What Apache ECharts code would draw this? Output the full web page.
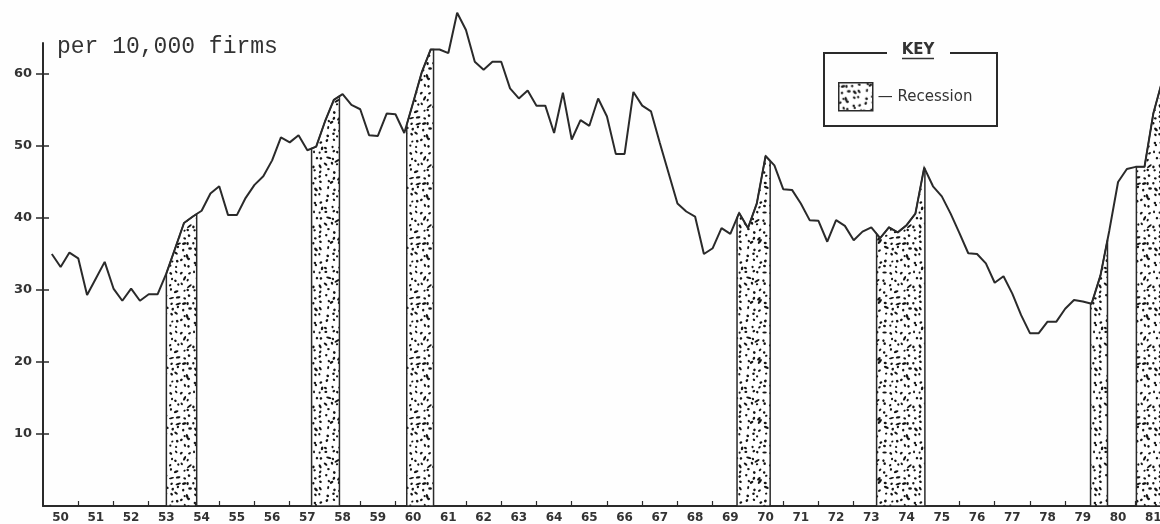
<!DOCTYPE html>
<html>
<head>
<meta charset="utf-8">
<script src="https://cdn.jsdelivr.net/npm/echarts@6/dist/echarts.min.js"></script>
<style>
  html, body { margin: 0; padding: 0; background: #fefefe; }
  #chart { width: 1160px; height: 524px; }
</style>
</head>
<body>
<div id="chart"></div>
<script>
// ---- data ----
// quarterly business failure rate, per 10,000 firms; first point = end of 1950 Q1
const quarterStart = 1950.25;
const quarterStep = 0.25;
const failureRate = [
  35.0, 33.2, 35.2, 34.4, 29.3, 31.6, 33.9, 30.2, 28.5, 30.2,
  28.5, 29.4, 29.4, 32.3, 35.8, 39.3, 40.2, 41.0, 43.4, 44.4,
  40.4, 40.4, 42.8, 44.6, 45.8, 48.0, 51.2, 50.5, 51.5, 49.4,
  49.9, 53.4, 56.4, 57.2, 55.7, 55.1, 51.5, 51.4, 54.5, 54.4,
  51.8, 56.0, 60.3, 63.4, 63.4, 62.9, 68.5, 66.1, 61.7, 60.6,
  61.7, 61.7, 58.0, 56.6, 57.7, 55.6, 55.6, 51.8, 57.4, 50.9,
  53.6, 52.8, 56.6, 54.1, 48.9, 48.9, 57.5, 55.6, 54.8, 50.4,
  46.2, 42.0, 40.9, 40.2, 35.0, 35.8, 38.6, 37.8, 40.7, 38.6,
  42.0, 48.6, 47.3, 44.0, 43.9, 42.0, 39.7, 39.6, 36.7, 39.7,
  38.9, 36.9, 38.1, 38.7, 37.2, 38.7, 38.0, 39.0, 40.6, 47.0,
  44.4, 43.0, 40.6, 37.9, 35.1, 35.0, 33.7, 31.0, 31.9, 29.5,
  26.5, 24.0, 24.0, 25.6, 25.6, 27.4, 28.6, 28.4, 28.1, 32.0,
  38.2, 45.0, 46.8, 47.1, 47.1, 54.5, 59.0
];
// recession periods [start, end] in years
const recessions = [
  [1953.50, 1954.36],
  [1957.62, 1958.41],
  [1960.32, 1961.08],
  [1969.69, 1970.63],
  [1973.65, 1975.02],
  [1979.72, 1980.20],
  [1981.02, 1981.75]
];
const yTickValues = [10, 20, 30, 40, 50, 60];
const yearFirst = 1950, yearLast = 1981;
const unitLabel = 'per 10,000 firms';
const keyTitle = 'KEY';
const recessionName = 'Recession';

// ---- derived ----
const lineData = failureRate.map((v, i) => [quarterStart + i * quarterStep, v]);
const yearTicks = [];
const yearLabelPos = [];
for (let y = yearFirst; y <= yearLast; y++) {
  if (y > yearFirst) yearTicks.push(y);
  yearLabelPos.push(y + 0.5);
}
function valueAt(t) {
  if (t <= lineData[0][0]) return lineData[0][1];
  for (let i = 1; i < lineData.length; i++) {
    if (t <= lineData[i][0]) {
      const a = lineData[i - 1], b = lineData[i];
      return a[1] + (b[1] - a[1]) * (t - a[0]) / (b[0] - a[0]);
    }
  }
  return lineData[lineData.length - 1][1];
}

// stipple texture (deterministic jittered grid)
function makeStipple() {
  const N = 60, cell = 6;
  const c = document.createElement('canvas');
  c.width = N; c.height = N;
  const g = c.getContext('2d');
  g.fillStyle = '#ffffff';
  g.fillRect(0, 0, N, N);
  let s = 424242;
  const r = () => { s = (s * 1103515245 + 12345) % 2147483648; return s / 2147483648; };
  g.fillStyle = '#151515';
  for (let gy = 0; gy < N; gy += cell) {
    for (let gx = 0; gx < N; gx += cell) {
      const x = gx + cell / 2 + (r() - 0.5) * 4;
      const y = gy + cell / 2 + (r() - 0.5) * 4;
      const dash = r() < 0.25;
      const rx = dash ? 1.9 + r() * 1.0 : 1.1 + r() * 0.5;
      const ry = 0.95 + r() * 0.35, ang = r() * Math.PI;
      for (const dx of [-N, 0, N]) for (const dy of [-N, 0, N]) {
        g.beginPath();
        g.ellipse(x + dx, y + dy, rx, ry, ang, 0, Math.PI * 2);
        g.fill();
      }
    }
  }
  return c;
}
const stipple = { image: makeStipple(), repeat: 'repeat' };

const chart = echarts.init(document.getElementById('chart'));
const numFont = 'DejaVu Sans';

chart.setOption({
  animation: false,
  backgroundColor: '#fefefe',
  grid: { left: 43, right: 0, top: 43, bottom: 18, containLabel: false, outerBoundsMode: 'none' },
  xAxis: {
    type: 'value', min: 1950, max: 1981.69,
    axisLine: { show: true, lineStyle: { color: '#2a2a2a', width: 2 } },
    axisTick: { show: true, inside: true, length: 5, customValues: yearTicks,
                lineStyle: { color: '#2a2a2a', width: 1.2 } },
    axisLabel: { show: true, customValues: yearLabelPos, margin: 6,
                 formatter: v => String(Math.floor(v)).slice(2),
                 color: '#333', fontSize: 12, fontWeight: 'bold', fontFamily: numFont },
    splitLine: { show: false }
  },
  yAxis: [{
    type: 'value', min: 0, max: 64.3, position: 'left',
    axisLine: { show: true, lineStyle: { color: '#2a2a2a', width: 2 } },
    axisTick: { show: true, inside: false, length: 7, customValues: yTickValues,
                lineStyle: { color: '#2a2a2a', width: 1.5 } },
    axisLabel: { show: true, customValues: yTickValues, margin: 11,
                 color: '#333', fontSize: 13, fontWeight: 'bold', fontFamily: numFont },
    splitLine: { show: false }
  }, {
    type: 'value', min: 0, max: 64.3, position: 'left', offset: 0,
    axisLine: { show: false },
    axisTick: { show: true, inside: true, length: 6, customValues: yTickValues,
                lineStyle: { color: '#2a2a2a', width: 1.5 } },
    axisLabel: { show: false },
    splitLine: { show: false }
  }],
  legend: {
    left: 833, top: 77,
    itemWidth: 34, itemHeight: 28, itemGap: 6,
    icon: 'rect',
    data: [{ name: recessionName, icon: 'rect',
             itemStyle: { color: stipple, borderColor: '#2a2a2a', borderWidth: 1.5 } }],
    formatter: n => '— ' + n,
    textStyle: { color: '#333', fontSize: 15, fontFamily: 'DejaVu Sans' },
    selectedMode: false
  },
  series: [{
    name: recessionName,
    type: 'custom',
    xAxisIndex: 0, yAxisIndex: 0,
    itemStyle: { color: stipple, borderColor: '#2a2a2a', borderWidth: 1.5 },
    data: recessions,
    clip: false,
    z: 2,
    renderItem: function (params, api) {
      const a = api.value(0), b = api.value(1);
      const pts = [api.coord([a, 0]), api.coord([a, valueAt(a)])];
      lineData.forEach(p => { if (p[0] > a && p[0] < b) pts.push(api.coord(p)); });
      pts.push(api.coord([b, valueAt(b)]));
      pts.push(api.coord([b, 0]));
      return {
        type: 'polygon',
        shape: { points: pts },
        style: { fill: stipple, stroke: '#2a2a2a', lineWidth: 1.5 }
      };
    }
  }, {
    name: 'Failure rate',
    type: 'line',
    xAxisIndex: 0, yAxisIndex: 0,
    data: lineData,
    showSymbol: false,
    clip: false,
    z: 3,
    lineStyle: { color: '#2a2a2a', width: 2 }
  }],
  graphic: [
    { type: 'text', left: 57, top: 35,
      style: { text: unitLabel, font: '23px "Liberation Mono"', fill: '#333' } },
    { type: 'polyline', z: 10,
      shape: { points: [[887, 53], [824, 53], [824, 126], [997, 126], [997, 53], [950, 53]] },
      style: { stroke: '#2a2a2a', lineWidth: 2, fill: null } },
    { type: 'text', z: 10, x: 918, y: 50,
      style: { text: keyTitle, font: 'bold 15px "DejaVu Sans"', fill: '#333',
               align: 'center', verticalAlign: 'middle' } },
    { type: 'line', z: 10,
      shape: { x1: 902, y1: 58.5, x2: 934, y2: 58.5 },
      style: { stroke: '#333', lineWidth: 1.5 } }
  ]
});
</script>
</body>
</html>
